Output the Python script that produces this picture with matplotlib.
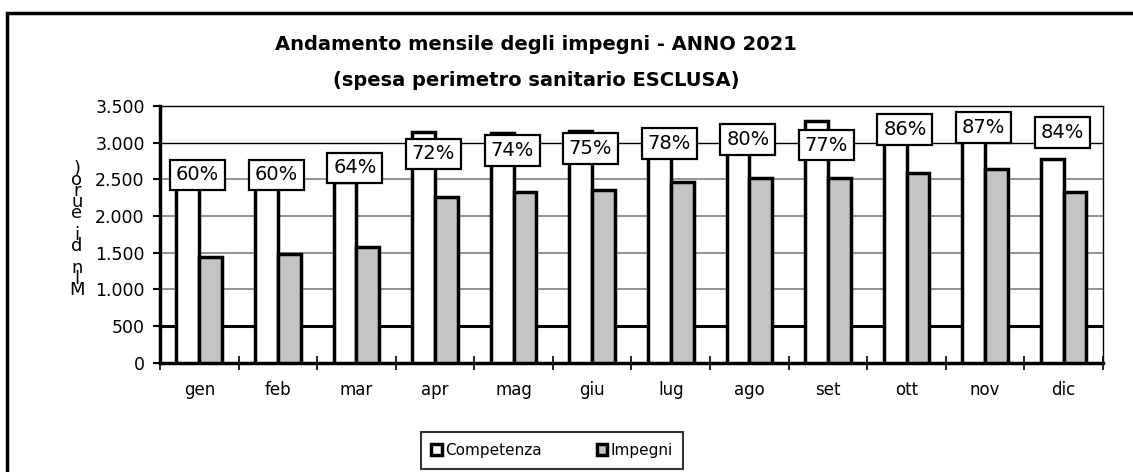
import matplotlib.pyplot as plt
import numpy as np
from matplotlib.patches import Rectangle, Patch
from matplotlib.ticker import FuncFormatter

# dati (milioni di euro)
mesi = ["gen", "feb", "mar", "apr", "mag", "giu", "lug", "ago", "set", "ott", "nov", "dic"]
competenza = [2393, 2460, 2470, 3147, 3137, 3157, 3156, 3151, 3297, 3000, 3029, 2771]
impegni = [1436, 1477, 1580, 2262, 2321, 2353, 2462, 2521, 2521, 2580, 2635, 2321]
percentuali = [60, 60, 64, 72, 74, 75, 78, 80, 77, 86, 87, 84]

plt.rcParams['font.family'] = ['DejaVu Sans']

fig = plt.figure(figsize=(11.33, 4.72), dpi=100)
ax = fig.add_axes([0.1412, 0.2316, 0.8323, 0.5438])

x = np.arange(len(mesi))
w = 0.29
ax.bar(x - w / 2, competenza, w, color="white", edgecolor="black", linewidth=2.5, zorder=3, label="Competenza")
ax.bar(x + w / 2, impegni, w, color="#c4c4c4", edgecolor="black", linewidth=2.5, zorder=3, label="Impegni")

ax.set_xlim(-0.5, len(mesi) - 0.5)
ax.set_ylim(0, 3500)
ax.set_yticks(np.arange(0, 3501, 500))
ax.yaxis.set_major_formatter(FuncFormatter(lambda v, p: f"{int(v):,}".replace(",", ".")))

# griglia come in Excel
for g in [1000, 1500, 2000, 2500]:
    ax.axhline(g, color="#808080", lw=1.2, zorder=1)
ax.axhline(3000, color="black", lw=1.0, zorder=1)
ax.axhline(500, color="black", lw=2.2, zorder=1)

ax.set_xticks(x)
ax.set_xticklabels(mesi, fontsize=12)
ax.tick_params(axis="x", which="major", length=0, pad=13)
ax.set_xticks(np.arange(-0.5, len(mesi), 1), minor=True)
ax.tick_params(axis="x", which="minor", direction="inout", length=10, width=1.2)
ax.tick_params(axis="y", direction="out", length=5, width=1.5, labelsize=12.5, pad=6)

ax.spines["left"].set_linewidth(2.5)
ax.spines["bottom"].set_linewidth(2.5)
ax.spines["top"].set_linewidth(1.0)
ax.spines["right"].set_linewidth(1.0)

ax.text(-0.088, 0.52, "\n".join(list("Mln di euro)")[::-1]), transform=ax.transAxes,
        ha="center", va="center", fontsize=13, linespacing=0.5)

# etichette percentuali (asse secondario)
ax2 = ax.twinx()
ax2.set_ylim(-46.7, 99.2)
ax2.set_axis_off()
for i, p in enumerate(percentuali):
    ax2.text(x[i] - 0.02, p, f"{p}%", ha="center", va="center", fontsize=14, zorder=5,
             bbox=dict(boxstyle="square,pad=0.3", fc="white", ec="black", lw=1.6))

fig.text(536 / 1133, 1 - 45 / 472, "Andamento mensile degli impegni - ANNO 2021",
         ha="center", va="center", fontsize=14, fontweight="bold")
fig.text(536 / 1133, 1 - 80 / 472, "(spesa perimetro sanitario ESCLUSA)",
         ha="center", va="center", fontsize=14, fontweight="bold")

handles = [Patch(fc="white", ec="black", lw=2.5), Patch(fc="#c4c4c4", ec="black", lw=2.5)]
leg = fig.legend(handles, ["Competenza", "Impegni"], loc="center", bbox_to_anchor=(552 / 1133, 0.0456),
                 ncol=2, fontsize=11, frameon=True, fancybox=False, edgecolor="black",
                 handlelength=0.7, handleheight=0.7, handletextpad=0.2, columnspacing=3.6,
                 borderpad=0.7, borderaxespad=0)
leg.get_frame().set_linewidth(1.5)
leg.set_in_layout(False)

# cornice esterna
fig.patches.append(Rectangle((7 / 1133, -0.1), 1.2, 1 - 13 / 472 + 0.1, transform=fig.transFigure,
                             fill=False, ec="black", lw=2.5))

fig.savefig("out.png", dpi=100)
